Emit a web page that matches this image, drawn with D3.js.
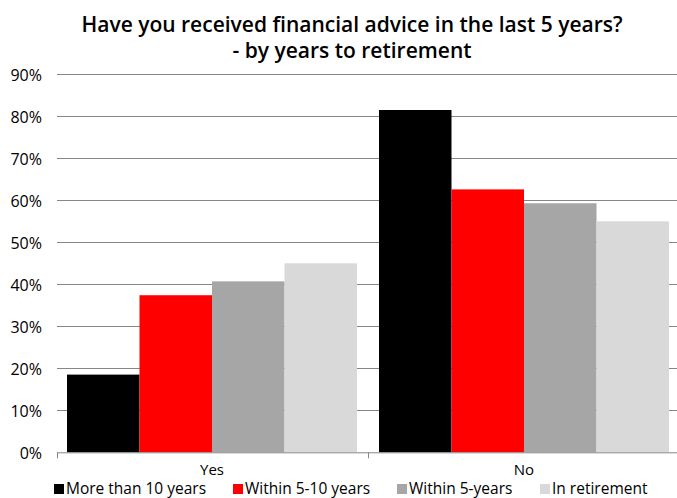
<!DOCTYPE html>
<html>
<head>
<meta charset="utf-8">
<script src="https://cdn.jsdelivr.net/npm/d3@7"></script>
<style>
  html, body { margin: 0; padding: 0; background: #fff; }
  svg { display: block; }
  text { font-family: "Open Sans", "Noto Sans", sans-serif; fill: #000; }
</style>
</head>
<body>
<svg id="chart" width="677" height="498"></svg>
<script>
// Survey answers by time left to retirement (percent of respondents)
const categories = ["Yes", "No"];
const seriesNames = ["More than 10 years", "Within 5-10 years", "Within 5-years", "In retirement"];
const moreThan10 = [18.5, 81.5];
const within5to10 = [37.4, 62.6];
const within5 = [40.7, 59.3];
const inRetirement = [45.0, 55.0];
const seriesColors = ["#000000", "#ff0000", "#a6a6a6", "#d9d9d9"];
const yTicks = [0, 10, 20, 30, 40, 50, 60, 70, 80, 90];
const titleLines = ["Have you received financial advice in the last 5 years?", "- by years to retirement"];

const seriesValues = [moreThan10, within5to10, within5, inRetirement];
const rows = categories.map((c, i) => ({
  category: c,
  values: seriesNames.map((s, j) => ({ series: s, value: seriesValues[j][i], color: seriesColors[j] }))
}));

const svg = d3.select("#chart");
const W = 677, H = 498;
const plot = { left: 56, right: 680, top: 74.3, bottom: 452.3 };

const y = d3.scaleLinear().domain([0, 90]).range([plot.bottom, plot.top]);
const x = d3.scaleBand().domain(categories).range([plot.left, plot.right]).padding(0);
const gap = 22;
const xs = d3.scaleBand().domain(seriesNames).range([gap / 2, x.bandwidth() - gap / 2]).padding(0);

// Title
svg.append("g").selectAll("text")
  .data(titleLines)
  .join("text")
  .attr("x", 352)
  .attr("y", (d, i) => 32 + i * 26)
  .attr("text-anchor", "middle")
  .style("font-size", "21px")
  .style("font-weight", "600")
  .text(d => d);

// Horizontal gridlines
const grid = svg.append("g");
grid.selectAll("line")
  .data(yTicks.filter(t => t > 0))
  .join("line")
  .attr("x1", plot.left + 1).attr("x2", W)
  .attr("y1", d => Math.round(y(d)) + 0.5).attr("y2", d => Math.round(y(d)) + 0.5)
  .attr("stroke", "#868686").attr("stroke-width", 1);

// Y axis labels
const yAxis = d3.axisLeft(y).tickValues(yTicks).tickFormat(d => d + "%").tickSize(0).tickPadding(0);
const gy = svg.append("g").attr("transform", `translate(${plot.left - 14},0)`).call(yAxis);
gy.select(".domain").remove();
gy.selectAll("text").style("font-size", "16px").style("font-family", "\"Open Sans\", sans-serif").attr("dy", "0.36em");

// Bars
const groups = svg.append("g").selectAll("g")
  .data(rows)
  .join("g")
  .attr("transform", d => `translate(${x(d.category)},0)`);
groups.selectAll("rect")
  .data(d => d.values)
  .join("rect")
  .attr("x", d => xs(d.series))
  .attr("width", xs.bandwidth())
  .attr("y", d => y(d.value))
  .attr("height", d => y(0) - y(d.value))
  .attr("fill", d => d.color);

// Category axis
const gx = svg.append("g").attr("transform", `translate(0,${plot.bottom})`);
gx.append("line")
  .attr("x1", plot.left + 1).attr("x2", W)
  .attr("y1", 0.5).attr("y2", 0.5)
  .attr("stroke", "#868686");
gx.selectAll("line.tick")
  .data([plot.left + 1, x("No")])
  .join("line")
  .attr("class", "tick")
  .attr("x1", d => Math.round(d) + 0.5).attr("x2", d => Math.round(d) + 0.5)
  .attr("y1", 0).attr("y2", 6)
  .attr("stroke", "#868686");
gx.selectAll("text.cat")
  .data(categories)
  .join("text")
  .attr("class", "cat")
  .attr("x", d => x(d) + x.bandwidth() / 2)
  .attr("y", 23)
  .attr("text-anchor", "middle")
  .style("font-size", "15px")
  .text(d => d);

// Legend
const legendX = [54, 233, 397, 540];
const legend = svg.append("g").selectAll("g")
  .data(seriesNames)
  .join("g")
  .attr("transform", (d, i) => `translate(${legendX[i]},484)`);
legend.append("rect")
  .attr("width", 10).attr("height", 10)
  .attr("fill", (d, i) => seriesColors[i]);
legend.append("text")
  .attr("x", 12).attr("y", 10)
  .style("font-size", "15.5px")
  .text(d => d);
</script>
</body>
</html>
